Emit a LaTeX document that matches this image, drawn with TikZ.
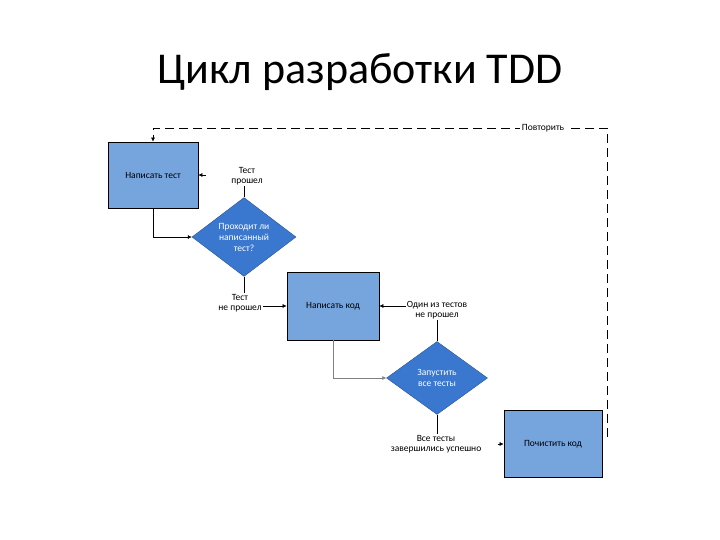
\documentclass[tikz,border=0pt]{standalone}
\usepackage{fontspec}
\setmainfont{Carlito}
\usepackage{xcolor}
\definecolor{boxblue}{HTML}{76A4DD}
\definecolor{diablue}{HTML}{3A78D0}
\usepackage{tikz}
\usetikzlibrary{positioning,arrows.meta,shapes.geometric,calc}

\begin{document}
\begin{tikzpicture}[x=1pt, y=-1pt,
                   stepbox/.style={draw, fill=boxblue, line width=0.7pt, font=\fontsize{9.5}{11}\selectfont,
                                   align=center, inner sep=0pt},
                   decide/.style={diamond, draw=diablue!70!black, fill=diablue, line width=0.4pt, text=white,
                                  font=\fontsize{9.5}{11}\selectfont, align=center, inner sep=0pt},
                   lbl/.style={fill=white, font=\fontsize{9.5}{10}\selectfont, align=center, inner sep=1pt},
                   conn/.style={line width=0.6pt, -{Latex[length=4pt,width=4pt]}}]
    \useasboundingbox (0,0) rectangle (720,540);
    \node[font=\fontsize{44}{52}\selectfont] (title) at (360,72) {Цикл разработки TDD};
    % steps and decisions
    \node[stepbox, minimum width=90pt, minimum height=66pt] (write) at (153,175) {Написать тест};
    \node[decide, minimum width=104pt, minimum height=74pt] (pass) at (244,237) {Проходит ли\\написанный\\тест?};
    \node[stepbox, minimum width=92pt, minimum height=68pt] (code) at (333,306) {Написать код};
    \node[decide, minimum width=101pt, minimum height=73pt] (run) at (437,378) {Запустить\\все тесты};
    \node[stepbox, minimum width=98pt, minimum height=67pt] (clean) at (553,444) {Почистить код};
    \coordinate (rstart) at (607,437);
    \coordinate (rpt) at (607,128);
    % connectors
    \draw[conn] (write.south) |- (pass.west);
    \draw[conn] (pass.north) |- (write.east);
    \draw[conn] (pass.south) |- (code.west);
    \draw[conn, draw=gray] (code.south) |- (run.west);
    \draw[conn] (run.north) |- (code.east);
    \draw[conn] (run.south) |- (clean.west);
    \draw[conn, dash pattern=on 9pt off 5pt] (rstart) -- (rpt) -| (write.north);
    % labels
    \node[lbl, minimum width=82pt] (ok) at (247,176) {Тест\\прошел};
    \node[lbl] (fail) at (240,303) {Тест\\не прошел};
    \node[lbl] (onefail) at (437,310) {Один из тестов\\не прошел};
    \node[lbl, minimum width=124pt] (allok) at (436,444) {Все тесты\\завершились успешно};
    \node[lbl, inner xsep=2pt] (again) at (543,128) {Повторить};
\end{tikzpicture}
\end{document}
